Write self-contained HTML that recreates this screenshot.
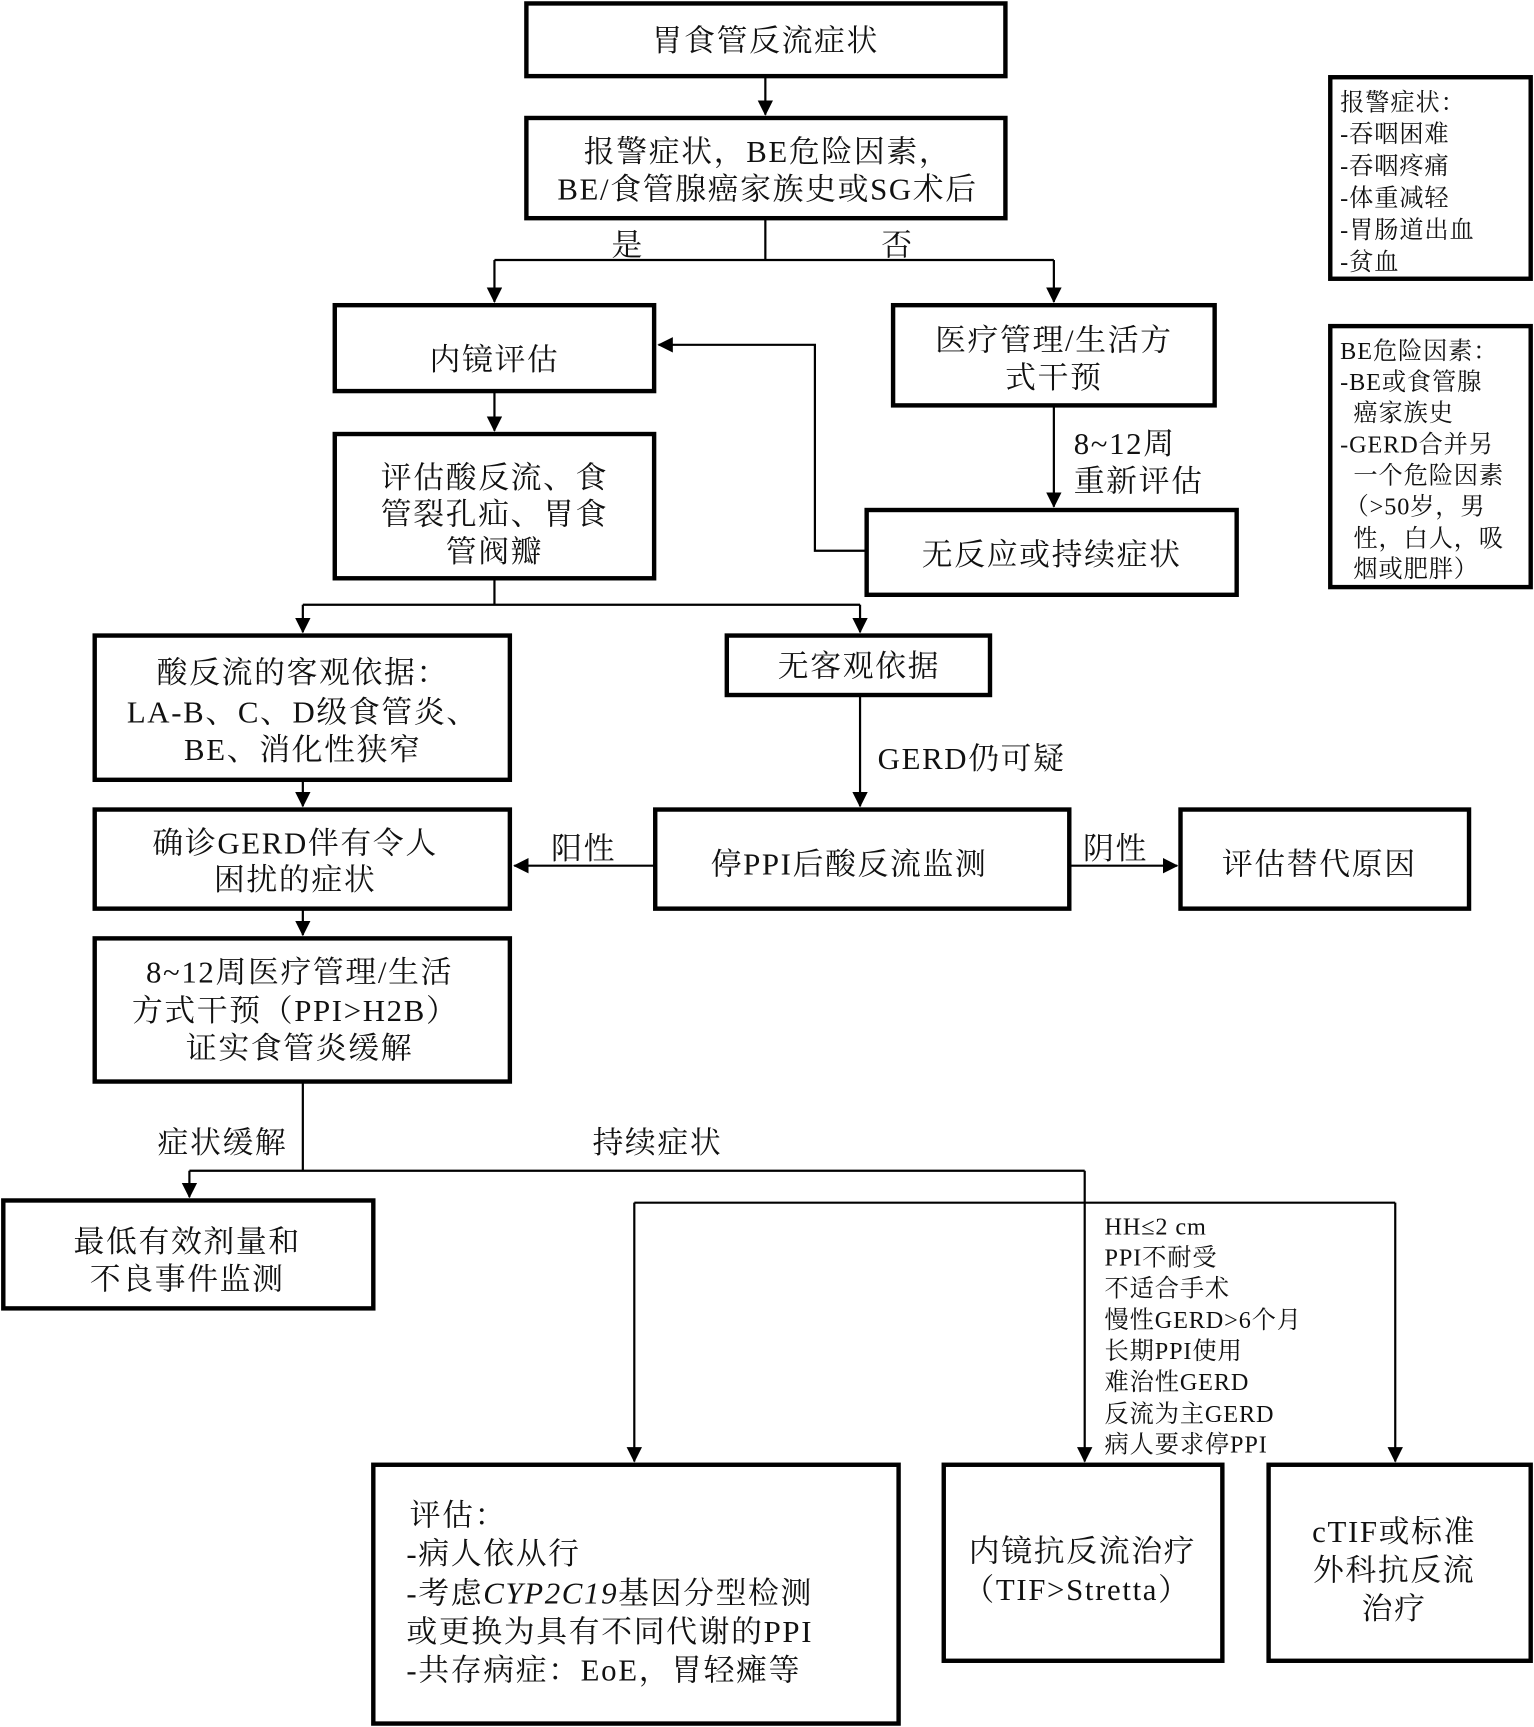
<!DOCTYPE html>
<html><head><meta charset="utf-8"><style>
html,body{margin:0;padding:0;background:#fff;}
svg{display:block;}
text{font-family:"Liberation Serif","Noto Serif CJK SC",serif;fill:#111;}
.m{font-size:28px;text-anchor:middle;letter-spacing:1.5px;}
.l{font-size:28px;letter-spacing:1.5px;}
.s{font-size:22px;letter-spacing:0.8px;}
.b{fill:#fff;stroke:#000;stroke-width:4;}
.c{fill:none;stroke:#000;stroke-width:2;}
</style></head><body>
<svg width="1534" height="1727" viewBox="0 0 1393 1568" xmlns="http://www.w3.org/2000/svg">
<defs>
<marker id="a2" markerWidth="14" markerHeight="14" refX="13" refY="7" orient="auto" markerUnits="userSpaceOnUse"><path d="M0,0 L14,7 L0,14 z" fill="#000"/></marker></defs>

<g class="c">
<path d="M695,69 V104" marker-end="url(#a2)"/>
<path d="M695,198 V236 M449,236 H957"/>
<path d="M449,236 V274" marker-end="url(#a2)"/>
<path d="M957,236 V274" marker-end="url(#a2)"/>
<path d="M449,355 V391" marker-end="url(#a2)"/>
<path d="M957,368 V460" marker-end="url(#a2)"/>
<path d="M787,500 H740 V313 H598" marker-end="url(#a2)"/>
<path d="M449,525 V549 M275,549 H781"/>
<path d="M275,549 V574" marker-end="url(#a2)"/>
<path d="M781,549 V574" marker-end="url(#a2)"/>
<path d="M781,631 V732" marker-end="url(#a2)"/>
<path d="M275,708 V732" marker-end="url(#a2)"/>
<path d="M595,786 H467" marker-end="url(#a2)"/>
<path d="M971,786 H1069" marker-end="url(#a2)"/>
<path d="M275,825 V849" marker-end="url(#a2)"/>
<path d="M275,982 V1063 M172,1063 H985"/>
<path d="M172,1063 V1087" marker-end="url(#a2)"/>
<path d="M985,1063 V1327" marker-end="url(#a2)"/>
<path d="M576,1092 H1267"/>
<path d="M576,1092 V1327" marker-end="url(#a2)"/>
<path d="M1267,1092 V1327" marker-end="url(#a2)"/>
</g>

<rect class="b" x="478" y="3" width="435" height="66"/>
<rect class="b" x="478" y="107" width="435" height="91"/>
<rect class="b" x="304" y="277" width="290" height="78"/>
<rect class="b" x="811" y="277" width="292" height="91"/>
<rect class="b" x="304" y="394" width="290" height="131"/>
<rect class="b" x="787" y="463" width="336" height="77"/>
<rect class="b" x="86" y="577" width="377" height="131"/>
<rect class="b" x="660" y="577" width="239" height="54"/>
<rect class="b" x="86" y="735" width="377" height="90"/>
<rect class="b" x="595" y="735" width="376" height="90"/>
<rect class="b" x="1072" y="735" width="262" height="90"/>
<rect class="b" x="86" y="852" width="377" height="130"/>
<rect class="b" x="3" y="1090" width="336" height="98"/>
<rect class="b" x="339" y="1330" width="477" height="235"/>
<rect class="b" x="857" y="1330" width="253" height="178"/>
<rect class="b" x="1152" y="1330" width="238" height="178"/>
<rect class="b" x="1208" y="70" width="182" height="183"/>
<rect class="b" x="1208" y="296" width="182" height="237"/>

<text class="m" x="695" y="46">胃食管反流症状</text>
<text class="m" x="697" y="147">报警症状，BE危险因素，</text>
<text class="m" x="697" y="181">BE/食管腺癌家族史或SG术后</text>
<text class="m" x="570" y="232">是</text>
<text class="m" x="815" y="232">否</text>
<text class="m" x="449" y="336">内镜评估</text>
<text class="m" x="957" y="318">医疗管理/生活方</text>
<text class="m" x="957" y="352">式干预</text>
<text class="m" x="449" y="443">评估酸反流、食</text>
<text class="m" x="449" y="476">管裂孔疝、胃食</text>
<text class="m" x="449" y="510">管阀瓣</text>
<text class="l" x="975" y="412">8~12周</text>
<text class="l" x="975" y="446">重新评估</text>
<text class="m" x="955" y="513">无反应或持续症状</text>
<text class="m" x="275" y="620">酸反流的客观依据：</text>
<text class="m" x="275" y="656">LA-B、C、D级食管炎、</text>
<text class="m" x="275" y="690">BE、消化性狭窄</text>
<text class="m" x="780" y="614">无客观依据</text>
<text class="l" x="797" y="698">GERD仍可疑</text>
<text class="m" x="268" y="775">确诊GERD伴有令人</text>
<text class="m" x="268" y="808">困扰的症状</text>
<text class="m" x="530" y="780">阳性</text>
<text class="m" x="1013" y="780">阴性</text>
<text class="m" x="771" y="794">停PPI后酸反流监测</text>
<text class="m" x="1198" y="794">评估替代原因</text>
<text class="m" x="272" y="892">8~12周医疗管理/生活</text>
<text class="m" x="268" y="927">方式干预（PPI&gt;H2B）</text>
<text class="m" x="272" y="961">证实食管炎缓解</text>
<text class="m" x="202" y="1047">症状缓解</text>
<text class="m" x="597" y="1047">持续症状</text>
<text class="m" x="170" y="1137">最低有效剂量和</text>
<text class="m" x="170" y="1171">不良事件监测</text>
<g class="s">
<text x="1003" y="1121">HH≤2 cm</text>
<text x="1003" y="1149">PPI不耐受</text>
<text x="1003" y="1177">不适合手术</text>
<text x="1003" y="1206">慢性GERD&gt;6个月</text>
<text x="1003" y="1234">长期PPI使用</text>
<text x="1003" y="1262">难治性GERD</text>
<text x="1003" y="1291">反流为主GERD</text>
<text x="1003" y="1319">病人要求停PPI</text>
</g>
<text class="l" x="372" y="1385">评估：</text>
<text class="l" x="369" y="1420">-病人依从行</text>
<text class="l" x="369" y="1456">-考虑<tspan font-style="italic">CYP2C19</tspan>基因分型检测</text>
<text class="l" x="369" y="1491">或更换为具有不同代谢的PPI</text>
<text class="l" x="369" y="1526">-共存病症：EoE，胃轻瘫等</text>
<text class="m" x="983" y="1418">内镜抗反流治疗</text>
<text class="m" x="978" y="1453">（TIF&gt;Stretta）</text>
<text class="m" x="1266" y="1400">cTIF或标准</text>
<text class="m" x="1266" y="1435">外科抗反流</text>
<text class="m" x="1266" y="1470">治疗</text>
<g class="s">
<text x="1217" y="100">报警症状：</text>
<text x="1217" y="129">-吞咽困难</text>
<text x="1217" y="158">-吞咽疼痛</text>
<text x="1217" y="187">-体重减轻</text>
<text x="1217" y="216">-胃肠道出血</text>
<text x="1217" y="245">-贫血</text>
<text x="1217" y="326">BE危险因素：</text>
<text x="1217" y="354">-BE或食管腺</text>
<text x="1229" y="382">癌家族史</text>
<text x="1217" y="411">-GERD合并另</text>
<text x="1229" y="439">一个危险因素</text>
<text x="1221" y="467">（&gt;50岁，男</text>
<text x="1229" y="496">性，白人，吸</text>
<text x="1229" y="524">烟或肥胖）</text>
</g>
</svg>
</body></html>
